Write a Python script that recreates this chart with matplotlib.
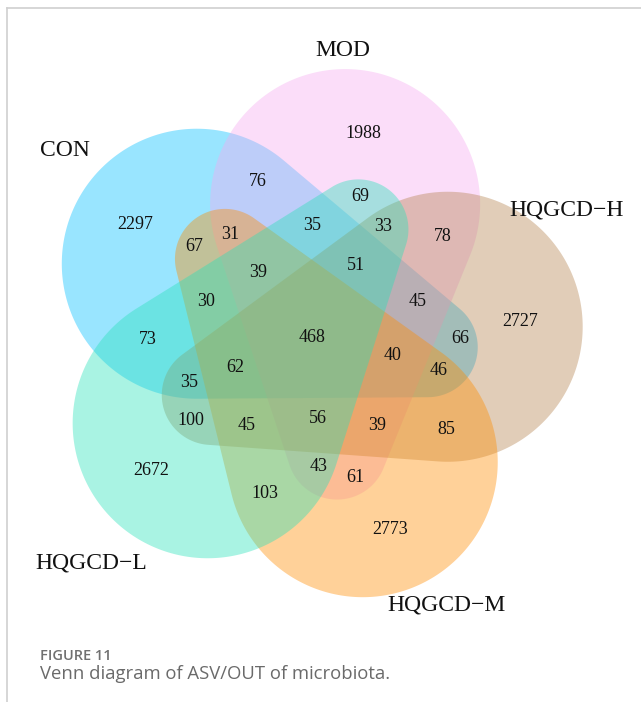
import numpy as np
import matplotlib
matplotlib.use("Agg")
import matplotlib.pyplot as plt
from matplotlib.patches import Polygon

# ---------------- data ----------------
# sets in counter-clockwise order around the diagram (MOD at the top)
set_names = ["MOD", "CON", "HQGCD\u2212L", "HQGCD\u2212M", "HQGCD\u2212H"]
set_colors = ["#F5AAF0", "#00BFFF", "#28E1B9", "#FF8C00", "#B4824E"]
# region counts, index k refers to set k in set_names
only_counts = [1988, 2297, 2672, 2773, 2727]          # only set k
pair_next_counts = [76, 73, 103, 85, 78]              # set k & set k+1
pair_skip_counts = [69, 67, 100, 61, 66]              # set k & set k+2
triple_a_counts = [33, 31, 35, 43, 46]                # sets k-1, k, k+2
triple_b_counts = [35, 30, 45, 39, 45]                # sets k, k+1, k+2
quad_counts = [51, 39, 62, 56, 40]                    # all except set k+3
all_count = 468                                       # all five sets

# ---------------- layout ----------------
W, H = 641, 702
CX, CY = 312, 336          # diagram centre (pixels)
THETA0 = 75.9              # direction of set 0 (degrees)
ALPHA = 0.4
draw_order = [1, 0, 4, 3, 2]   # CON, MOD, H, M, L

# template shape (pointing up): hull of a big and a small circle (cx, cy, r)
template_circles = [(0, 136, 135), (52, -104, 50)]

# label rings: (radius, angle offset from set direction)
rings = {
    "only": (209, 0.0),
    "pair_next": (164, 33.3),
    "pair_skip": (148, -5.0),
    "triple_a": (131, -19.0),
    "triple_b": (111, 14.0),
    "quad": (83, -17.5),
}
name_pos = {"MOD": (343, 50), "CON": (65, 150), "HQGCD\u2212H": (567, 210),
            "HQGCD\u2212M": (446, 605), "HQGCD\u2212L": (91, 563)}


def hull(points):
    pts = sorted(set(map(tuple, np.round(points, 4))))
    def cross(o, a, b):
        return (a[0]-o[0])*(b[1]-o[1]) - (a[1]-o[1])*(b[0]-o[0])
    lower, upper = [], []
    for p in pts:
        while len(lower) >= 2 and cross(lower[-2], lower[-1], p) <= 0:
            lower.pop()
        lower.append(p)
    for p in reversed(pts):
        while len(upper) >= 2 and cross(upper[-2], upper[-1], p) <= 0:
            upper.pop()
        upper.append(p)
    return np.array(lower[:-1] + upper[:-1])


t = np.linspace(0, 2*np.pi, 720, endpoint=False)
tpl = np.vstack([np.column_stack([cx + r*np.cos(t), cy + r*np.sin(t)])
                 for cx, cy, r in template_circles])
tpl = hull(tpl)


def to_pixels(xy, deg):
    a = np.radians(deg)
    x = xy[:, 0]*np.cos(a) - xy[:, 1]*np.sin(a)
    y = xy[:, 0]*np.sin(a) + xy[:, 1]*np.cos(a)
    return np.column_stack([CX + x, CY - y])


def ring_pos(ring, k):
    r, off = rings[ring]
    a = np.radians(THETA0 + 72*k + off)
    return CX + r*np.cos(a), CY - r*np.sin(a)


fig = plt.figure(figsize=(W/100, H/100), dpi=100)
ax = fig.add_axes([0, 0, 1, 1])
ax.set_xlim(0, W)
ax.set_ylim(H, 0)
ax.axis("off")

for k in draw_order:
    poly = to_pixels(tpl, THETA0 + 72*k - 90)
    ax.add_patch(Polygon(poly, closed=True, facecolor=set_colors[k],
                         edgecolor="none", alpha=ALPHA))

serif = ["Liberation Serif", "DejaVu Serif"]
num_kw = dict(ha="center", va="center", fontsize=13, family=serif, color="#111111")
groups = [("only", only_counts), ("pair_next", pair_next_counts),
          ("pair_skip", pair_skip_counts), ("triple_a", triple_a_counts),
          ("triple_b", triple_b_counts), ("quad", quad_counts)]
for ring, vals in groups:
    for k, v in enumerate(vals):
        x, y = ring_pos(ring, k)
        ax.text(x, y, str(v), **num_kw)
ax.text(CX, CY + 1, str(all_count), **num_kw)

for name in set_names:
    x, y = name_pos[name]
    ax.text(x, y, name, ha="center", va="center", fontsize=17,
            family=serif, color="#111111")

# frame lines
ax.plot([7, W], [7.5, 7.5], color="#d0d0d0", lw=1.2)
ax.plot([7, 7], [7.5, H], color="#d0d0d0", lw=1.2)

ax.text(40, 656, "FIGURE 11", ha="left", va="center", fontsize=10.5,
        family=["Open Sans", "DejaVu Sans"], fontweight="semibold", color="#707070")
ax.text(40, 674, "Venn diagram of ASV/OUT of microbiota.", ha="left", va="center",
        fontsize=13.3, family=["Open Sans", "DejaVu Sans"], color="#6a6a6a")

fig.savefig("out.png", dpi=100)
